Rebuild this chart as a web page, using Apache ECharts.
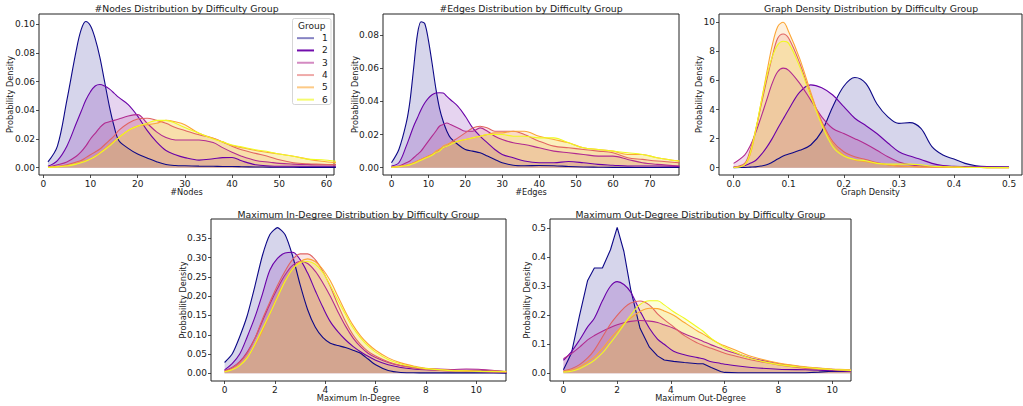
<!DOCTYPE html>
<html><head><meta charset="utf-8">
<script src="https://cdn.jsdelivr.net/npm/echarts@6/dist/echarts.min.js"></script>
<style>html,body{margin:0;padding:0;background:#fff}#c{width:1023px;height:406px}</style>
</head><body><div id="c"></div>
<script>
// ---------- data ----------
const groups = ['1','2','3','4','5','6'];
const groupColors = ['#0d0887','#6a00a8','#b12a90','#e16462','#fca636','#f0f921'];

const panelTitles = [
  '#Nodes Distribution by Difficulty Group',
  '#Edges Distribution by Difficulty Group',
  'Graph Density Distribution by Difficulty Group',
  'Maximum In-Degree Distribution by Difficulty Group',
  'Maximum Out-Degree Distribution by Difficulty Group'
];
const xAxisNames = ['#Nodes','#Edges','Graph Density','Maximum In-Degree','Maximum Out-Degree'];
const yAxisName = 'Probability Density';

// #Nodes
const nodesX  = [1,3,5,7,8,9,10,11,12,13,14,15,16,18,20,22,24,26,28,30,33,36,38,40,42,45,48,50,53,56,59,62];
const nodesG1 = [0.004,0.015,0.047,0.082,0.096,0.102,0.099,0.090,0.077,0.060,0.043,0.029,0.019,0.0135,0.0095,0.0068,0.0042,0.0022,0.0015,0.0013,0.0011,0.001,0.0008,0.0008,0.0007,0.0005,0.0004,0.0003,0.0003,0.0002,0.0002,0.0002];
const nodesG2 = [0.001,0.005,0.015,0.031,0.039,0.047,0.053,0.057,0.058,0.057,0.055,0.052,0.049,0.044,0.036,0.026,0.018,0.012,0.009,0.007,0.0053,0.0062,0.007,0.0071,0.0048,0.002,0.0012,0.001,0.001,0.001,0.001,0.001];
const nodesG3 = [0.0005,0.002,0.004,0.008,0.011,0.015,0.020,0.024,0.028,0.031,0.032,0.033,0.034,0.036,0.037,0.031,0.025,0.021,0.0193,0.0193,0.0193,0.0175,0.014,0.0108,0.008,0.005,0.0038,0.003,0.0025,0.0022,0.002,0.002];
const nodesG4 = [0.0003,0.0008,0.002,0.004,0.005,0.007,0.009,0.011,0.013,0.016,0.019,0.022,0.026,0.031,0.034,0.0345,0.033,0.031,0.028,0.026,0.023,0.0205,0.018,0.015,0.0125,0.010,0.0075,0.0055,0.0035,0.0027,0.0024,0.002];
const nodesG5 = [0.0003,0.0008,0.0015,0.003,0.004,0.005,0.006,0.008,0.0105,0.013,0.016,0.0185,0.021,0.026,0.029,0.030,0.031,0.033,0.032,0.030,0.024,0.0205,0.018,0.0155,0.014,0.012,0.0105,0.0095,0.008,0.006,0.0045,0.0035];
const nodesG6 = [0.0002,0.0006,0.0012,0.0025,0.0035,0.0045,0.006,0.0078,0.0100,0.0125,0.015,0.018,0.021,0.026,0.029,0.031,0.033,0.033,0.031,0.028,0.024,0.020,0.018,0.0158,0.0145,0.0125,0.011,0.0095,0.008,0.006,0.0055,0.0045];
const nodesXTicks = [0,10,20,30,40,50,60];
const nodesYTicks = [0,0.02,0.04,0.06,0.08,0.10];

// #Edges
const edgesX  = [0,2,4,5,6,7,8,9,10,11,12,13,14,15,16,18,20,22,24,26,28,30,33,36,40,44,48,52,56,60,64,68,72,78];
const edgesG1 = [0.003,0.011,0.027,0.040,0.060,0.080,0.088,0.087,0.077,0.063,0.048,0.036,0.028,0.022,0.018,0.014,0.011,0.010,0.009,0.007,0.005,0.003,0.0015,0.0012,0.0013,0.0012,0.0007,0.0004,0.0003,0.0002,0.0002,0.0001,0.0001,0.0001];
const edgesG2 = [0.001,0.003,0.013,0.019,0.025,0.030,0.035,0.039,0.042,0.044,0.045,0.0452,0.045,0.043,0.041,0.037,0.031,0.024,0.019,0.015,0.011,0.008,0.006,0.004,0.003,0.003,0.0037,0.003,0.002,0.0015,0.001,0.001,0.001,0.0008];
const edgesG3 = [0.0005,0.001,0.003,0.004,0.006,0.008,0.010,0.013,0.016,0.019,0.022,0.025,0.026,0.027,0.026,0.024,0.022,0.022,0.024,0.022,0.019,0.017,0.015,0.014,0.012,0.010,0.009,0.008,0.007,0.007,0.005,0.003,0.002,0.001];
const edgesG4 = [0.0003,0.0007,0.0015,0.002,0.003,0.004,0.005,0.006,0.007,0.008,0.009,0.011,0.012,0.013,0.015,0.018,0.021,0.024,0.025,0.024,0.022,0.022,0.022,0.020,0.016,0.013,0.012,0.011,0.010,0.009,0.006,0.005,0.004,0.003];
const edgesG5 = [0.0003,0.0008,0.0015,0.002,0.003,0.004,0.005,0.006,0.007,0.008,0.010,0.011,0.013,0.014,0.015,0.016,0.017,0.018,0.019,0.020,0.021,0.021,0.022,0.022,0.019,0.017,0.015,0.012,0.011,0.010,0.008,0.008,0.006,0.004];
const edgesG6 = [0.0002,0.0006,0.0012,0.0017,0.0025,0.0035,0.0045,0.0055,0.0065,0.0075,0.009,0.010,0.012,0.013,0.014,0.016,0.017,0.018,0.019,0.020,0.020,0.020,0.019,0.019,0.018,0.018,0.015,0.012,0.011,0.010,0.009,0.008,0.006,0.004];
const edgesXTicks = [0,10,20,30,40,50,60,70];
const edgesYTicks = [0,0.02,0.04,0.06,0.08];

// Graph density
const densX  = [0,0.02,0.03,0.04,0.05,0.06,0.07,0.08,0.09,0.1,0.12,0.14,0.16,0.18,0.2,0.22,0.24,0.26,0.28,0.3,0.32,0.34,0.36,0.38,0.4,0.42,0.44,0.46,0.5];
const densG1 = [0,0.02,0.04,0.06,0.12,0.2,0.38,0.6,0.8,0.94,1.2,1.56,2.5,4.2,5.6,6.2,5.8,4.4,3.5,3.05,3.1,2.7,1.45,0.87,0.6,0.3,0.14,0.08,0.05];
const densG2 = [0.05,0.14,0.3,0.5,0.9,1.4,2.0,2.7,3.35,4.0,5.2,5.7,5.5,5.0,4.2,3.4,2.9,2.35,1.7,1.1,0.8,0.57,0.3,0.15,0.1,0.08,0.06,0.05,0.05];
const densG3 = [0.3,0.87,1.5,2.4,3.5,4.65,5.8,6.6,6.85,6.7,5.8,4.65,3.5,2.7,2.35,2.0,1.63,1.2,0.75,0.4,0.2,0.12,0.1,0.09,0.08,0.07,0.05,0.04,0.03];
const densG4 = [0.05,0.3,1.2,2.6,4.3,6.0,7.6,8.9,9.2,8.9,7.2,5.0,3.2,1.8,1.1,0.75,0.57,0.35,0.2,0.12,0.1,0.07,0.06,0.04,0.03,0.02,0.02,0.01,0.01];
const densG5 = [0.02,0.2,0.9,2.5,4.5,6.5,8.4,9.7,10.0,9.35,7.5,5.2,3.05,1.67,0.87,0.53,0.41,0.3,0.2,0.12,0.08,0.06,0.05,0.04,0.03,0.02,0.02,0.01,0.01];
const densG6 = [0.02,0.2,1.0,2.6,4.5,6.26,7.6,8.45,8.7,8.55,6.95,4.9,2.95,1.45,0.8,0.57,0.48,0.3,0.25,0.25,0.25,0.2,0.1,0.07,0.05,0.03,0.02,0.01,0.01];
const densXTicks = [0,0.1,0.2,0.3,0.4,0.5];
const densYTicks = [0,2,4,6,8,10];

// Maximum in-degree
const indegX  = [0,0.3,0.6,0.9,1.2,1.5,1.8,2.1,2.4,2.7,3.0,3.3,3.6,3.9,4.2,4.5,4.8,5.1,5.4,5.7,6.0,6.5,7,7.5,8,9,9.6,10.2,11.2];
const indegG1 = [0.028,0.05,0.095,0.15,0.225,0.305,0.36,0.378,0.36,0.305,0.23,0.165,0.12,0.093,0.078,0.072,0.067,0.06,0.052,0.037,0.022,0.007,0.002,0.0015,0.001,0.001,0.001,0.001,0.0005];
const indegG2 = [0.009,0.025,0.05,0.095,0.145,0.205,0.268,0.298,0.312,0.314,0.295,0.26,0.215,0.172,0.134,0.108,0.087,0.07,0.056,0.044,0.034,0.022,0.015,0.011,0.009,0.007,0.008,0.008,0.004];
const indegG3 = [0.007,0.015,0.03,0.055,0.09,0.135,0.18,0.22,0.255,0.28,0.29,0.285,0.265,0.235,0.2,0.16,0.123,0.092,0.069,0.052,0.041,0.028,0.02,0.016,0.012,0.01,0.011,0.01,0.004];
const indegG4 = [0.006,0.014,0.028,0.052,0.09,0.14,0.185,0.228,0.265,0.295,0.31,0.31,0.295,0.265,0.225,0.178,0.135,0.1,0.075,0.057,0.045,0.03,0.02,0.014,0.01,0.006,0.005,0.004,0.003];
const indegG5 = [0.004,0.01,0.022,0.042,0.072,0.11,0.155,0.2,0.24,0.272,0.29,0.297,0.29,0.27,0.24,0.2,0.16,0.125,0.097,0.076,0.06,0.04,0.027,0.019,0.013,0.008,0.007,0.006,0.005];
const indegG6 = [0.004,0.009,0.02,0.04,0.075,0.115,0.155,0.197,0.238,0.27,0.287,0.29,0.283,0.262,0.228,0.19,0.153,0.118,0.092,0.071,0.055,0.036,0.024,0.017,0.012,0.007,0.006,0.005,0.004];
const indegXTicks = [0,2,4,6,8,10];
const indegYTicks = [0,0.05,0.10,0.15,0.20,0.25,0.30,0.35];

// Maximum out-degree
const outdegX  = [0,0.3,0.6,0.9,1.15,1.45,1.75,2.0,2.25,2.5,2.85,3.2,3.5,3.75,4.1,4.5,5.0,5.2,5.5,5.85,6.0,6.5,7,8,9,9.5,10,10.7];
const outdegG1 = [0.012,0.07,0.2,0.32,0.363,0.363,0.426,0.503,0.42,0.29,0.155,0.09,0.06,0.046,0.041,0.037,0.033,0.033,0.02,0.006,0.003,0.002,0.002,0.002,0.002,0.004,0.007,0.006];
const outdegG2 = [0.045,0.075,0.115,0.16,0.19,0.25,0.3,0.316,0.306,0.28,0.215,0.155,0.118,0.1,0.076,0.064,0.054,0.05,0.04,0.034,0.031,0.025,0.02,0.014,0.012,0.011,0.009,0.006];
const outdegG3 = [0.05,0.068,0.09,0.115,0.13,0.145,0.158,0.167,0.174,0.179,0.182,0.18,0.175,0.167,0.155,0.136,0.118,0.11,0.098,0.086,0.08,0.066,0.052,0.034,0.021,0.017,0.014,0.01];
const outdegG4 = [0.009,0.016,0.03,0.053,0.08,0.125,0.17,0.2,0.225,0.242,0.249,0.235,0.205,0.185,0.16,0.13,0.104,0.096,0.086,0.074,0.069,0.057,0.046,0.029,0.017,0.014,0.012,0.008];
const outdegG5 = [0.006,0.011,0.022,0.04,0.056,0.085,0.12,0.145,0.17,0.19,0.213,0.224,0.223,0.215,0.2,0.175,0.145,0.135,0.118,0.1,0.095,0.076,0.058,0.035,0.022,0.018,0.015,0.012];
const outdegG6 = [0.004,0.007,0.016,0.03,0.045,0.07,0.105,0.135,0.168,0.2,0.237,0.25,0.25,0.236,0.212,0.19,0.158,0.145,0.12,0.098,0.09,0.068,0.05,0.03,0.02,0.016,0.013,0.01];
const outdegXTicks = [0,2,4,6,8,10];
const outdegYTicks = [0,0.1,0.2,0.3,0.4,0.5];

// ---------- layout / style ----------
const FF = 'DejaVu Sans';
const TXT = '#1a1a1a';
const panels = [
  {x:nodesX, ys:[nodesG1,nodesG2,nodesG3,nodesG4,nodesG5,nodesG6], xr:[-0.9,61.6], yr:[-0.0051,0.1072], xt:nodesXTicks, yt:nodesYTicks, xd:0, yd:2,
   grid:{left:39,top:14,width:295,height:161}, ygap:25, tx:186.5, ty:8.3, g1smooth:0.35},
  {x:edgesX, ys:[edgesG1,edgesG2,edgesG3,edgesG4,edgesG5,edgesG6], xr:[-2.3,77.9], yr:[-0.0044,0.0927], xt:edgesXTicks, yt:edgesYTicks, xd:0, yd:2,
   grid:{left:383,top:14,width:296,height:161}, ygap:24, tx:531, ty:8.3, g1smooth:0.3},
  {x:densX, ys:[densG1,densG2,densG3,densG4,densG5,densG6], xr:[-0.0265,0.5235], yr:[-0.5,10.57], xt:densXTicks, yt:densYTicks, xd:1, yd:0,
   grid:{left:719,top:14,width:303,height:161}, ygap:16, tx:871, ty:8.3, g1smooth:0.35},
  {x:indegX, ys:[indegG1,indegG2,indegG3,indegG4,indegG5,indegG6], xr:[-0.54,11.18], yr:[-0.02,0.4004], xt:indegXTicks, yt:indegYTicks, xd:0, yd:2,
   grid:{left:211,top:219,width:295,height:162}, ygap:24, tx:358.5, ty:214, g1smooth:0.2},
  {x:outdegX, ys:[outdegG1,outdegG2,outdegG3,outdegG4,outdegG5,outdegG6], xr:[-0.5,10.7], yr:[-0.0266,0.532], xt:outdegXTicks, yt:outdegYTicks, xd:0, yd:1,
   grid:{left:550,top:219,width:301,height:162}, ygap:19, tx:700.5, ty:214, g1smooth:0}
];

const grids = panels.map(p => Object.assign({show:true, borderColor:'#222', borderWidth:1, backgroundColor:'transparent', containLabel:false}, p.grid));

const labelStyle = {fontSize:9, fontFamily:FF, color:TXT};
const nameStyle = {fontSize:8.2, fontFamily:FF, color:TXT};

const xAxes = panels.map((p,i) => ({
  type:'value', gridIndex:i, min:p.xr[0], max:p.xr[1],
  name:xAxisNames[i], nameLocation:'middle', nameGap:12.5, nameTextStyle:nameStyle, nameMoveOverlap:false,
  axisLine:{show:false, onZero:false}, splitLine:{show:false},
  axisTick:{show:true, inside:false, length:3, lineStyle:{color:'#222', width:0.8}, customValues:p.xt},
  axisLabel:{show:true, customValues:p.xt, formatter:(v)=>Number(v).toFixed(p.xd), margin:4, ...labelStyle}
}));
const yAxes = panels.map((p,i) => ({
  type:'value', gridIndex:i, min:p.yr[0], max:p.yr[1],
  name:yAxisName, nameLocation:'middle', nameGap:p.ygap, nameTextStyle:nameStyle, nameMoveOverlap:false,
  axisLine:{show:false, onZero:false}, splitLine:{show:false},
  axisTick:{show:true, inside:false, length:3, lineStyle:{color:'#222', width:0.8}, customValues:p.yt},
  axisLabel:{show:true, customValues:p.yt, formatter:(v)=>Number(v).toFixed(p.yd), margin:4, ...labelStyle}
}));

const series = [];
panels.forEach((p,i) => {
  for (let g = 0; g < groups.length; g++) {
    const col = groupColors[g];
    series.push({
      type:'line', name:groups[g], xAxisIndex:i, yAxisIndex:i,
      data:p.x.map((xv,k)=>[xv, p.ys[g][k]]),
      smooth: g === 0 ? p.g1smooth : 0.35,
      symbol:'none', showSymbol:false, clip:true,
      lineStyle:{color:col, width:1.1},
      itemStyle:{color:col},
      areaStyle:{color:col, opacity:0.17},
      emphasis:{disabled:true}, z:2
    });
  }
});

const legendColors = ['rgba(13,8,135,0.5)','rgba(106,0,168,0.95)','rgba(177,42,144,0.55)','rgba(225,100,98,0.55)','rgba(252,166,54,0.6)','rgba(240,249,33,0.65)'];

const graphics = panelTitles.map((t,i) => ({
  type:'text', x:panels[i].tx, y:panels[i].ty, z:20,
  style:{text:t, fontSize:9.3, fontFamily:FF, fill:TXT, align:'center', verticalAlign:'middle'}
}));
graphics.push({type:'rect', shape:{x:292.5, y:18.5, width:38.5, height:86, r:2}, z:5,
  style:{fill:'rgba(255,255,255,0.85)', stroke:'#cccccc', lineWidth:0.8}});
graphics.push({type:'text', x:311.7, y:25.7, z:20,
  style:{text:'Group', fontSize:9, fontFamily:FF, fill:TXT, align:'center', verticalAlign:'middle'}});

const chart = echarts.init(document.getElementById('c'), null, {renderer:'svg', width:1023, height:406});
chart.setOption({
  animation:false,
  backgroundColor:'#ffffff',
  grid:grids, xAxis:xAxes, yAxis:yAxes, series:series,
  legend:{
    data:groups.map((g,i)=>({name:g, itemStyle:{color:legendColors[i], borderWidth:0}})),
    orient:'vertical', left:297, top:32, icon:'rect', itemWidth:17, itemHeight:2, itemGap:0,
    padding:0, selectedMode:false, z:10,
    textStyle:{fontSize:9, fontFamily:FF, color:TXT, lineHeight:12.3, padding:[0,0,0,3]}
  },
  graphic:graphics
});
</script>
</body></html>
